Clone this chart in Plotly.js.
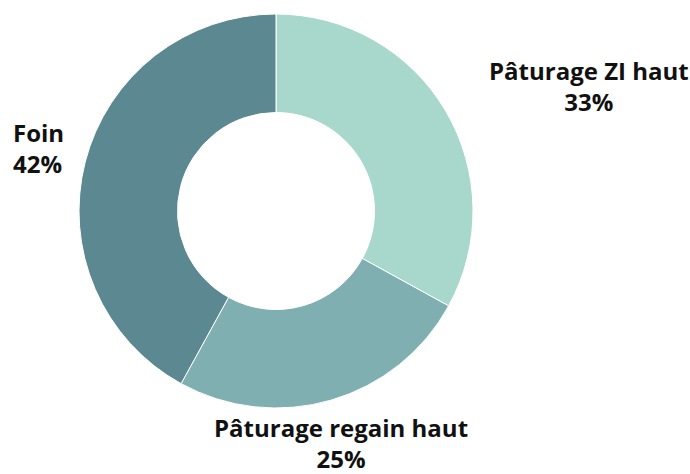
<!DOCTYPE html>
<html><head><meta charset="utf-8">
<script src="https://cdn.plot.ly/plotly-3.0.1.min.js"></script>
<style>html,body{margin:0;padding:0;background:#fff}#c{width:690px;height:474px}</style>
</head><body><div id="c"></div>
<script>
const labels = ["Pâturage ZI haut", "Pâturage regain haut", "Foin"];
const values = [33, 25, 42];
const colors = ["#a8d8cc", "#7fafb0", "#5b8891"];

// label placement (layout only)
const labelPos = [
  {x: 589, y: 86, xanchor: "center", align: "center"},
  {x: 341, y: 443, xanchor: "center", align: "center"},
  {x: 12, y: 148, xanchor: "left", align: "left"}
];

const total = values.reduce((a, b) => a + b, 0);

const trace = {
  type: "pie",
  labels: labels,
  values: values,
  hole: 0.5,
  sort: false,
  direction: "clockwise",
  rotation: 0,
  marker: {colors: colors, line: {color: "#ffffff", width: 1}},
  textinfo: "none",
  hoverinfo: "label+percent",
  showlegend: false,
  domain: {x: [79/690, 473/690], y: [1-408/474, 1-14/474]},
  automargin: false
};

const annotations = labels.map((lab, i) => ({
  xref: "paper", yref: "paper",
  x: labelPos[i].x / 690,
  y: 1 - labelPos[i].y / 474,
  xanchor: labelPos[i].xanchor,
  yanchor: "middle",
  align: labelPos[i].align,
  showarrow: false,
  borderpad: 0,
  text: "<b>" + lab + "</b><br><b>" + Math.round(values[i] / total * 100) + "%</b>",
  font: {family: "Open Sans", size: 24, color: "#111111"}
}));

Plotly.newPlot("c", [trace], {
  width: 690, height: 474,
  margin: {l: 0, r: 0, t: 0, b: 0},
  paper_bgcolor: "#ffffff",
  showlegend: false,
  annotations: annotations
}, {displayModeBar: false, staticPlot: true});
</script></body></html>
